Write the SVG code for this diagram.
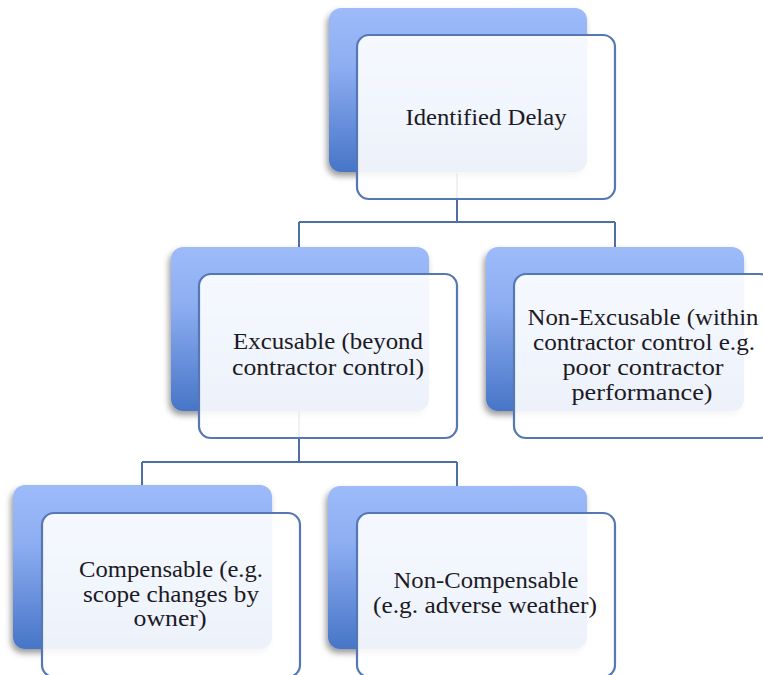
<svg xmlns="http://www.w3.org/2000/svg" width="763" height="675" viewBox="0 0 763 675">
<defs>
<linearGradient id="backGrad" x1="0" y1="0" x2="0" y2="1">
<stop offset="0" stop-color="#9dbbf9"/>
<stop offset="0.35" stop-color="#8eaef2"/>
<stop offset="1" stop-color="#4775c7"/>
</linearGradient>
<filter id="shadow" x="-20%" y="-20%" width="140%" height="140%">
<feDropShadow dx="-2" dy="4" stdDeviation="3" flood-color="#000" flood-opacity="0.4"/>
</filter>
</defs>
<style>
.back{fill:url(#backGrad);filter:url(#shadow)}
.front{fill:#ffffff;fill-opacity:0.9;stroke:#5578b4;stroke-width:2.2}
.conn{fill:none;stroke:#4e6fa6;stroke-width:2}
text{font-family:"Liberation Serif","Times New Roman",serif;font-size:23.5px;fill:#1c1a24;text-anchor:middle}
</style>
<rect width="763" height="675" fill="#ffffff"/>
<g id="connectors">
<path class="conn" d="M457,173 V222 M299,222 H615 M299,222 V247 M615,222 V247"/>
<path class="conn" d="M299,410 V462 M142,462 H457 M142,462 V485 M457,462 V486"/>
</g>
<g id="node-identified">
<rect class="back" x="329" y="8" width="258" height="164" rx="12"/>
<rect class="front" x="357" y="35" width="258" height="164" rx="12"/>
<text x="486" y="125" textLength="161" lengthAdjust="spacingAndGlyphs">Identified Delay</text>
</g>
<g id="node-excusable">
<rect class="back" x="171" y="247" width="258" height="164" rx="12"/>
<rect class="front" x="199" y="274" width="258" height="164" rx="12"/>
<text x="328" y="349" textLength="190" lengthAdjust="spacingAndGlyphs">Excusable (beyond</text>
<text x="328" y="375" textLength="192" lengthAdjust="spacingAndGlyphs">contractor control)</text>
</g>
<g id="node-nonexcusable">
<rect class="back" x="486" y="247" width="258" height="164" rx="12"/>
<rect class="front" x="514" y="274" width="258" height="164" rx="12"/>
<text x="643" y="325" textLength="231" lengthAdjust="spacingAndGlyphs">Non-Excusable (within</text>
<text x="644" y="350" textLength="222" lengthAdjust="spacingAndGlyphs">contractor control e.g.</text>
<text x="643" y="375" textLength="161" lengthAdjust="spacingAndGlyphs">poor contractor</text>
<text x="642" y="400" textLength="141" lengthAdjust="spacingAndGlyphs">performance)</text>
</g>
<g id="node-compensable">
<rect class="back" x="13" y="485" width="259" height="164" rx="12"/>
<rect class="front" x="42" y="513" width="258" height="164" rx="12"/>
<text x="171" y="577" textLength="184" lengthAdjust="spacingAndGlyphs">Compensable (e.g.</text>
<text x="171" y="602" textLength="176" lengthAdjust="spacingAndGlyphs">scope changes by</text>
<text x="170" y="626" textLength="73" lengthAdjust="spacingAndGlyphs">owner)</text>
</g>
<g id="node-noncompensable">
<rect class="back" x="328" y="486" width="259" height="163" rx="12"/>
<rect class="front" x="357" y="513" width="258" height="164" rx="12"/>
<text x="486" y="588" textLength="185" lengthAdjust="spacingAndGlyphs">Non-Compensable</text>
<text x="485" y="613" textLength="224" lengthAdjust="spacingAndGlyphs">(e.g. adverse weather)</text>
</g>
</svg>
